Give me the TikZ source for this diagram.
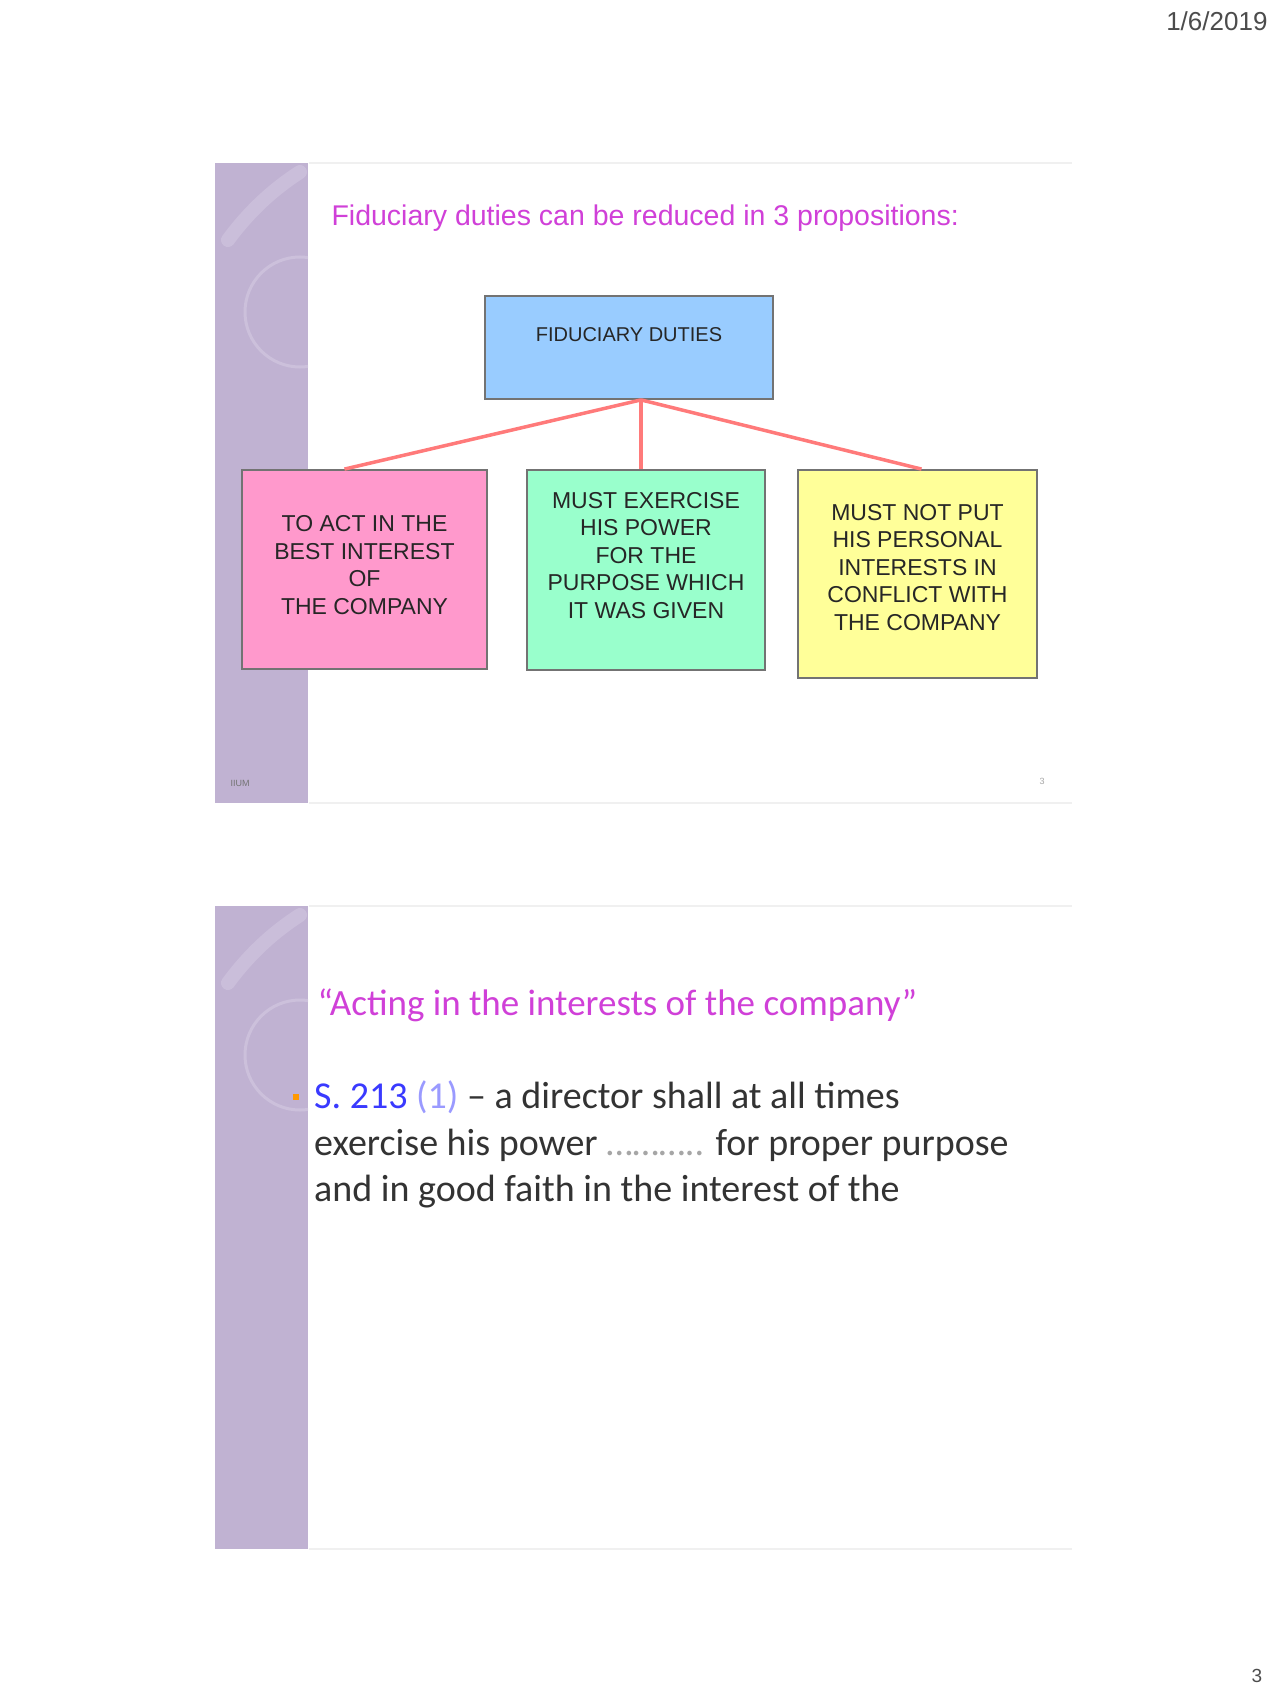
\documentclass[tikz,border=0pt]{standalone}
\usepackage{fontspec}
\setmainfont{Liberation Sans}
\newfontfamily\calib{Carlito}
\definecolor{sidebar}{HTML}{C0B2D2}
\definecolor{sidelight}{HTML}{D4CAE2}
\definecolor{ttlmag}{HTML}{D040D8}
\definecolor{boxblue}{HTML}{99CCFF}
\definecolor{boxpink}{HTML}{FF99CC}
\definecolor{boxgreen}{HTML}{99FFCC}
\definecolor{boxyellow}{HTML}{FFFF99}
\definecolor{linkred}{HTML}{FF7A7A}
\definecolor{sblue}{HTML}{3A3AFF}
\definecolor{lblue}{HTML}{9A9AFF}
\definecolor{bodygray}{HTML}{333333}
\definecolor{framegray}{HTML}{F0F0F0}
\begin{document}
\begin{tikzpicture}[x=1pt,y=-1pt,
  colbox/.style={draw=black!55, line width=1.8pt, minimum width=#1, inner sep=0pt},
  boxtext/.style={font=\fontsize{23}{27.5}\selectfont, align=center, text=black!85},
  link/.style={draw=linkred, line width=3.5pt},
  sidebarfill/.style={fill=sidebar, draw=none},
  frame/.style={draw=framegray, line width=1.5pt},
  swirl/.style={draw=sidelight, line width=14pt, opacity=0.5, line cap=round},
  ring/.style={draw=sidelight, line width=3pt, opacity=0.6},
  bodyline/.style={anchor=base west, font=\calib\fontsize{38}{46}\selectfont, text=bodygray, inner sep=0pt},
]
\useasboundingbox (0,0) rectangle (1280,1707);
\fill[white] (0,0) rectangle (1280,1707);

% date and page number
\node[font=\fontsize{26}{30}\selectfont, text=black!70, anchor=east] (date) at (1271,21) {1/6/2019};
\node[font=\fontsize{19}{22}\selectfont, text=black!70] (pagenum) at (1257,1676) {3};

% ---------------- slide 1 ----------------
\draw[frame] (309,163) -- (1072,163);
\draw[frame] (309,803) -- (1072,803);
\fill[sidebarfill] (215,163) rectangle (308,803);
\begin{scope}
\clip (215,163) rectangle (308,803);
\draw[swirl] (228,240) .. controls (250,210) and (275,188) .. (300,172);
\draw[ring] (300,312) circle (55);
\end{scope}
\node[font=\fontsize{9}{10}\selectfont, text=black!55] (foot1) at (240,783) {IIUM};
\node[font=\fontsize{9}{10}\selectfont, text=black!35] (num1) at (1042,781) {3};

\node[anchor=west, text=ttlmag, font=\fontsize{28.5}{32}\selectfont] (title1) at (328,218)
  {Fiduciary duties can be reduced in 3 propositions:};

\node[colbox=288pt, fill=boxblue, minimum height=103pt] (top) at (629,347.5) {};
\node[font=\fontsize{20}{24}\selectfont, text=black!85] (toplbl) at (629,335) {FIDUCIARY DUTIES};

\node[colbox=245pt, fill=boxpink, minimum height=199pt, boxtext, text depth=9pt] (pink) at (364.5,569.5)
  {TO ACT IN THE\\BEST INTEREST\\OF\\THE COMPANY};
\node[colbox=238pt, fill=boxgreen, minimum height=200pt, boxtext, text depth=30pt] (green) at (646,570)
  {MUST EXERCISE\\HIS POWER\\FOR THE\\PURPOSE WHICH\\IT WAS GIVEN};
\node[colbox=239pt, fill=boxyellow, minimum height=208pt, boxtext, text depth=14pt] (yellow) at (917.5,574)
  {MUST NOT PUT\\HIS PERSONAL\\INTERESTS IN\\CONFLICT WITH\\THE COMPANY};

\coordinate (j) at ([xshift=12pt]top.south);
\draw[link] (j) -- ([xshift=-20pt]pink.north);
\draw[link] (j) -- (j |- green.north);
\draw[link] (j) -- ([xshift=4pt]yellow.north);

% ---------------- slide 2 ----------------
\draw[frame] (309,906) -- (1072,906);
\draw[frame] (309,1549) -- (1072,1549);
\fill[sidebarfill] (215,906) rectangle (308,1549);
\begin{scope}
\clip (215,906) rectangle (308,1549);
\draw[swirl] (228,983) .. controls (250,953) and (275,931) .. (300,915);
\draw[ring] (300,1055) circle (55);
\end{scope}

\node[anchor=west, text=ttlmag, font=\calib\fontsize{37}{42}\selectfont] (title2) at (314,1005)
  {“Acting in the interests of the company”};

\node[fill=orange!80!yellow, minimum size=6pt, inner sep=0pt] (bullet) at (296,1097) {};
\node[bodyline] (l1) at (314,1108)
  {\textcolor{sblue}{S. 213} \textcolor{lblue}{(1)} – a director shall at all times};
\node[bodyline] (l2) at (314,1155)
  {exercise his power \textcolor{black!35}{………..} for proper purpose};
\node[bodyline] (l3) at (314,1201)
  {and in good faith in the interest of the};
\end{tikzpicture}
\end{document}
